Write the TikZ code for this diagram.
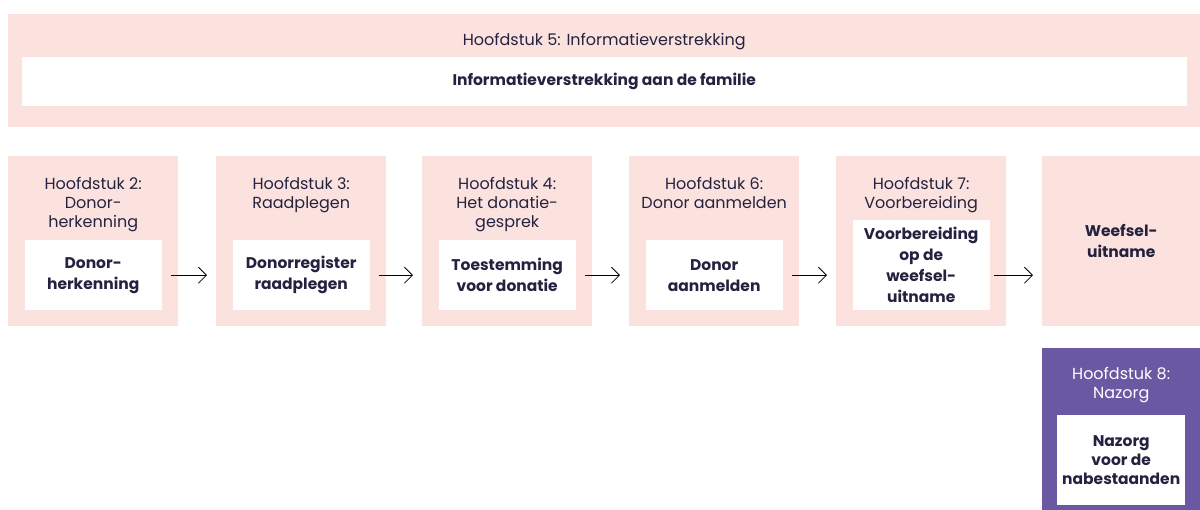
\documentclass[tikz,border=0pt]{standalone}
\usepackage{fontspec}
\setmainfont{Poppins}
\usepackage{tikz}
\usetikzlibrary{arrows.meta}
\usetikzlibrary{positioning}
\definecolor{roze}{HTML}{FBE2DF}
\definecolor{paars}{HTML}{6A58A2}
\definecolor{inkt}{HTML}{24223F}
\tikzset{blok/.style = {fill = roze, inner sep = 0, anchor = north west, minimum width = 170, minimum height = 170}}
\tikzset{kop/.style = {inner sep = 0, align = center, text = inkt, font = \fontsize{16}{19}\selectfont}}
\tikzset{vet/.style = {inner sep = 0, align = center, text = inkt, font = \bfseries\fontsize{15.5}{21}\selectfont}}
\tikzset{wit/.style = {vet, fill = white, minimum width = 137, minimum height = 70}}
\tikzset{pijl/.style = {-{Straight Barb[length = 8pt, width = 16pt]}, line width = 0.8pt, shorten <= 9pt, shorten >= 9pt}}

\begin{document}
\begin{tikzpicture}[x = 1pt, y = -1pt]
    \useasboundingbox (0, 0) rectangle (1200, 510);

    \node [blok, minimum width = 1192, minimum height = 113] (h5) at (8, 14) {};
    \node [kop, below = 19pt of h5.north] (k5) {Hoofdstuk 5: Informatieverstrekking};
    \node [wit, minimum width = 1165, minimum height = 49, below = 43pt of h5.north] (d5) {Informatieverstrekking aan de familie};

    \node [blok] (h2) at (8, 156) {};
    \node [blok] (h3) at (216, 156) {};
    \node [blok] (h4) at (422, 156) {};
    \node [blok] (h6) at (629, 156) {};
    \node [blok] (h7) at (836, 156) {};
    \node [blok, minimum width = 158] (w) at (1042, 156) {};
    \node [blok, fill = paars, minimum width = 158] (h8) at (1042, 348) {};

    \node [kop, below = 21pt of h2.north] (k2) {Hoofdstuk 2:\\Donor-\\herkenning};
    \node [kop, below = 21pt of h3.north] (k3) {Hoofdstuk 3:\\Raadplegen};
    \node [kop, below = 21pt of h4.north] (k4) {Hoofdstuk 4:\\Het donatie-\\gesprek};
    \node [kop, below = 21pt of h6.north] (k6) {Hoofdstuk 6:\\Donor aanmelden};
    \node [kop, below = 21pt of h7.north] (k7) {Hoofdstuk 7:\\Voorbereiding};
    \node [kop, text = white, below = 19pt of h8.north] (k8) {Hoofdstuk 8:\\Nazorg};

    \node [wit, above = 16pt of h2.south] (d2) {Donor-\\herkenning};
    \node [wit, above = 16pt of h3.south] (d3) {Donorregister\\raadplegen};
    \node [wit, above = 16pt of h4.south] (d4) {Toestemming\\voor donatie};
    \node [wit, above = 16pt of h6.south] (d6) {Donor\\aanmelden};
    \node [wit, minimum height = 90, above = 16pt of h7.south] (d7) {Voorbereiding\\op de\\weefsel-\\uitname};
    \node [vet] (dw) at (w.center) {Weefsel-\\uitname};
    \node [wit, font = \bfseries\fontsize{15.5}{19}\selectfont, minimum width = 128, minimum height = 90, below = 67pt of h8.north] (d8) {Nazorg\\voor de\\nabestaanden};

    \draw [pijl] (d2.east) -- (d2.east -| h3.west);
    \draw [pijl] (d3.east) -- (d3.east -| h4.west);
    \draw [pijl] (d4.east) -- (d4.east -| h6.west);
    \draw [pijl] (d6.east) -- (d6.east -| h7.west);
    \draw [pijl, shorten <= 4pt] (d7.east |- d6.east) -- (d6.east -| w.west);
\end{tikzpicture}
\end{document}
